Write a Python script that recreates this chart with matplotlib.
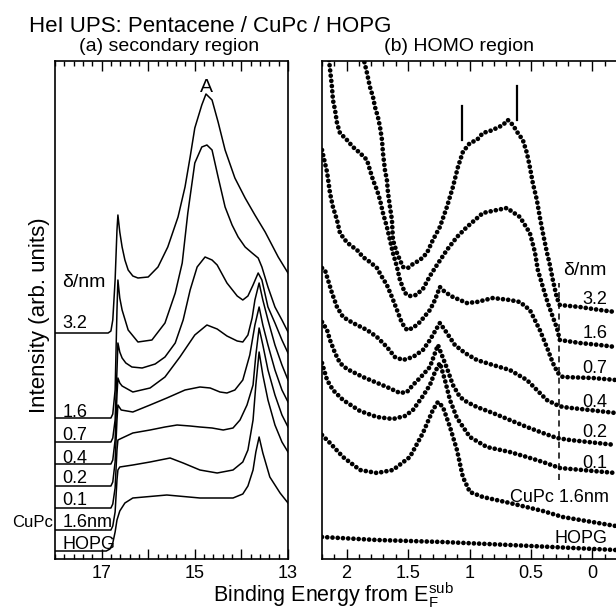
import matplotlib
matplotlib.use("Agg")
import matplotlib.pyplot as plt
from matplotlib.ticker import FixedLocator, MultipleLocator, FixedFormatter

plt.rcParams['font.family'] = ['Liberation Sans', 'DejaVu Sans']
plt.rcParams['mathtext.fontset'] = 'custom'
plt.rcParams['mathtext.rm'] = 'Liberation Sans'

# ---------------- (a) secondary region ----------------
sec_labels = ["3.2", "1.6", "0.7", "0.4", "0.2", "0.1", "1.6nm", "HOPG"]
sec_E = {
    "3.2": [18.00,16.86,16.80,16.76,16.71,16.67,16.65,16.61,16.56,16.50,16.43,16.33,16.22,16.00,15.79,15.58,15.36,15.21,15.10,15.00,14.85,14.76,14.63,14.50,14.35,14.14,13.92,13.71,13.49,13.21,13.00],
    "1.6": [18.00,16.80,16.76,16.71,16.67,16.65,16.61,16.56,16.43,16.22,15.92,15.64,15.42,15.27,15.15,15.00,14.85,14.74,14.63,14.50,14.35,14.20,14.07,13.92,13.77,13.64,13.56,13.43,13.28,13.13,13.00],
    "0.7": [18.00,16.80,16.76,16.71,16.67,16.65,16.61,16.56,16.48,16.35,16.13,15.85,15.64,15.42,15.25,15.10,14.95,14.78,14.63,14.52,14.31,14.09,13.97,13.86,13.75,13.64,13.56,13.43,13.28,13.13,13.00],
    "0.4": [18.00,16.80,16.76,16.71,16.67,16.65,16.61,16.56,16.33,15.96,15.64,15.32,15.00,14.74,14.52,14.31,14.09,13.97,13.86,13.77,13.71,13.62,13.54,13.43,13.28,13.13,13.00],
    "0.2": [18.00,16.80,16.76,16.71,16.67,16.65,16.58,16.33,15.96,15.60,15.21,14.89,14.67,14.46,14.31,14.14,13.97,13.82,13.71,13.62,13.54,13.43,13.28,13.13,13.00],
    "0.1": [18.00,16.80,16.76,16.71,16.67,16.65,16.56,16.33,15.96,15.64,15.38,15.10,14.89,14.63,14.39,14.18,14.03,13.88,13.75,13.69,13.62,13.54,13.43,13.28,13.13,13.00],
    "1.6nm": [18.00,16.80,16.76,16.71,16.67,16.65,16.61,16.33,15.96,15.53,15.25,14.89,14.52,14.18,13.97,13.86,13.75,13.69,13.62,13.54,13.43,13.28,13.13,13.00],
    "HOPG": [18.00,16.90,16.82,16.76,16.71,16.67,16.61,16.50,16.33,15.60,14.89,14.18,13.97,13.86,13.75,13.69,13.62,13.54,13.39,13.17,13.00],
}
sec_I = {
    "3.2": [226,226,228,239,279,329,344,327,312,299,289,283,281,282,292,312,342,372,402,431,454,465,459,437,409,381,361,344,327,302,286],
    "1.6": [141,141,145,169,249,279,261,249,229,217,219,236,266,296,346,396,412,414,409,382,352,334,322,312,306,301,292,272,252,239,227],
    "0.7": [117,117,121,139,189,216,207,201,196,192,191,195,202,216,239,269,292,302,299,294,276,263,259,263,274,286,279,252,236,219,206],
    "0.4": [95,95,99,119,164,181,176,173,167,171,182,202,224,234,230,223,218,217,224,241,259,276,259,239,214,194,179],
    "0.2": [73,73,77,97,139,154,149,147,154,161,169,172,171,167,166,169,179,204,234,252,234,214,189,169,157],
    "0.1": [51,51,55,71,109,119,121,126,129,132,134,133,132,131,129,131,139,154,174,204,231,214,189,164,144,132],
    "1.6nm": [29,29,33,47,79,89,92,94,97,101,96,89,86,89,97,109,139,174,207,184,159,134,117,107],
    "HOPG": [8,8,10,16,27,39,48,56,61,64,61,61,65,73,89,107,122,106,82,66,56],
}
sec_label_y = [231, 142, 119, 96, 76, 54, 32, 10]
sec_ticks = [17, 16, 15, 14, 13]
sec_ticklabels = ["17", "", "15", "", "13"]

# ---------------- (b) HOMO region ----------------
homo_labels = ["3.2", "1.6", "0.7", "0.4", "0.2", "0.1", "CuPc 1.6nm", "HOPG"]
homo_E = {
    "3.2": [1.875,1.834,1.810,1.785,1.769,1.745,1.728,1.712,1.704,1.688,1.672,1.663,1.647,1.631,1.623,1.590,1.566,1.541,1.501,1.460,1.403,1.346,1.298,1.241,1.184,1.135,1.094,1.054,0.997,0.940,0.891,0.834,0.777,0.728,0.688,0.647,0.607,0.566,0.533,0.509,0.485,0.452,0.428,0.403,0.371,0.346,0.322,0.289,0.265,0.102,-0.060,-0.190],
    "1.6": [2.143,2.119,2.111,2.094,2.078,2.054,1.997,1.948,1.891,1.834,1.810,1.785,1.753,1.728,1.704,1.672,1.647,1.623,1.590,1.566,1.525,1.485,1.436,1.379,1.322,1.265,1.184,1.102,1.021,0.891,0.777,0.696,0.590,0.509,0.468,0.444,0.403,0.363,0.322,0.289,0.265,0.102,-0.060,-0.190],
    "0.7": [2.200,2.176,2.159,2.135,2.111,2.078,2.054,2.013,1.972,1.915,1.867,1.810,1.753,1.712,1.672,1.631,1.590,1.550,1.509,1.460,1.403,1.322,1.281,1.241,1.200,1.135,1.021,0.940,0.810,0.672,0.590,0.509,0.428,0.371,0.322,0.281,0.241,-0.003,-0.190],
    "0.4": [2.200,2.176,2.151,2.119,2.078,2.029,1.948,1.834,1.753,1.672,1.607,1.541,1.460,1.379,1.322,1.265,1.241,1.184,1.119,1.037,0.940,0.810,0.672,0.533,0.452,0.371,0.289,0.241,-0.190],
    "0.2": [2.200,2.159,2.135,2.094,2.054,1.997,1.867,1.672,1.566,1.509,1.460,1.403,1.322,1.257,1.184,1.135,1.078,1.021,0.940,0.810,0.672,0.533,0.403,0.289,0.184,-0.190],
    "0.1": [2.200,2.159,2.111,2.029,1.891,1.753,1.623,1.525,1.460,1.379,1.322,1.281,1.241,1.200,1.159,1.102,0.997,0.859,0.672,0.533,0.403,0.265,-0.190],
    "CuPc 1.6nm": [2.200,2.135,2.029,1.891,1.753,1.623,1.485,1.379,1.298,1.257,1.216,1.159,1.102,1.054,0.997,0.891,0.672,0.403,0.241,-0.190],
    "HOPG": [2.200,1.753,1.216,0.672,-0.190],
}
homo_I = {
    "3.2": [507,486,472,462,452,442,432,419,406,389,379,366,352,339,319,306,299,292,291,295,299,306,319,332,352,372,392,407,416,419,426,428,431,434,439,434,426,419,406,392,376,359,342,326,307,294,279,261,254,252,249,247],
    "1.6": [499,472,459,449,436,426,419,412,406,399,389,379,369,359,346,332,319,306,292,279,266,263,264,270,283,294,309,322,332,346,349,351,342,326,307,289,272,256,242,231,219,216,214,212],
    "0.7": [409,396,387,366,352,339,326,319,314,309,302,297,291,282,274,262,249,236,229,231,237,249,259,272,267,262,256,257,261,259,257,249,229,212,196,186,182,181,179],
    "0.4": [291,289,279,266,252,242,236,229,222,212,202,199,202,209,219,231,236,226,214,206,199,194,189,179,169,159,154,152,146],
    "0.2": [237,229,219,206,196,190,182,172,166,167,174,181,192,214,191,174,162,157,152,146,139,132,126,121,119,114],
    "0.1": [196,179,169,159,148,142,140,143,149,163,174,187,196,179,159,141,122,112,107,102,97,91,86],
    "CuPc 1.6nm": [124,116,102,89,86,89,102,126,149,157,152,132,109,82,67,62,56,48,42,33],
    "HOPG": [22,19,17,14,9],
}
homo_label_y = [255, 221, 186, 152, 122, 91, 57, 16]
homo_label_x = [0.08, 0.08, 0.08, 0.08, 0.08, 0.08, 0.672, 0.306]
homo_markers_E = [1.06, 0.615]
homo_markers_I = [(419, 453), (439, 473)]
cutoff_E = 0.27
cutoff_I = (79, 276)
homo_ticks = [2, 1.5, 1, 0.5, 0]
homo_ticklabels = ["2", "1.5", "1", "0.5", "0"]

W, H = 616, 612
fig = plt.figure(figsize=(W / 100, H / 100), dpi=100)

axA = fig.add_axes([55 / W, 53 / H, 233 / W, 498 / H])
axB = fig.add_axes([322 / W, 53 / H, 295 / W, 498 / H])

lab_fs = 13
for ax in (axA, axB):
    ax.set_ylim(0, 498)
    ax.set_yticks([])
    for s in ax.spines.values():
        s.set_linewidth(1.2)
    ax.tick_params(axis='x', which='both', direction='in', top=True, bottom=True,
                   labelsize=13, pad=4, width=1.0)
    ax.tick_params(axis='x', which='major', length=7)
    ax.tick_params(axis='x', which='minor', length=3.5)
axB.spines['right'].set_visible(False)

# (a)
axA.set_xlim(18, 13)
axA.xaxis.set_major_locator(FixedLocator(sec_ticks))
axA.xaxis.set_major_formatter(FixedFormatter(sec_ticklabels))
axA.xaxis.set_minor_locator(MultipleLocator(0.2))
for name in sec_labels:
    axA.plot(sec_E[name], sec_I[name], color='black', lw=1.1)
for name, y in zip(sec_labels, sec_label_y):
    axA.text(17.84, y, name, fontsize=lab_fs, ha='left', va='baseline')
axA.text(17.84, 272, "δ/nm", fontsize=14, ha='left', va='baseline')
axA.text(18.04, 32, "CuPc", fontsize=12, ha='right', va='baseline', clip_on=False)
axA.text(14.76, 467, "A", fontsize=14, ha='center', va='baseline')

# (b)
axB.set_xlim(2.2, -0.2)
axB.xaxis.set_major_locator(FixedLocator(homo_ticks))
axB.xaxis.set_major_formatter(FixedFormatter(homo_ticklabels))
axB.xaxis.set_minor_locator(MultipleLocator(0.1))
for name in homo_labels:
    axB.plot(homo_E[name], homo_I[name], color='black', lw=3.4,
             linestyle=(0, (0.01, 1.1)), dash_capstyle='round')
for name, x, y in zip(homo_labels, homo_label_x, homo_label_y):
    axB.text(x, y, name, fontsize=lab_fs, ha='left', va='baseline')
axB.text(0.24, 284, "δ/nm", fontsize=14, ha='left', va='baseline')
for e, (i0, i1) in zip(homo_markers_E, homo_markers_I):
    axB.plot([e, e], [i0, i1], color='black', lw=1.6)
axB.plot([cutoff_E, cutoff_E], list(cutoff_I), color='black', lw=1.1, linestyle=(0, (4, 3)))

fig.text(29 / W, 1 - 32 / H, "HeI UPS: Pentacene / CuPc / HOPG", fontsize=16,
         ha='left', va='baseline')
fig.text(169 / W, 1 - 51 / H, "(a) secondary region", fontsize=14, ha='center', va='baseline')
fig.text(459 / W, 1 - 51 / H, "(b) HOMO region", fontsize=14, ha='center', va='baseline')
fig.text(333 / W, 9.5 / H, r"Binding Energy from E$_\mathregular{F}^\mathregular{sub}$",
         fontsize=15.5, ha='center', va='baseline')
fig.text(40 / W, 1 - 315 / H, "Intensity (arb. units)", fontsize=16, rotation=90,
         ha='center', va='center')

fig.savefig("out.png", dpi=100)
